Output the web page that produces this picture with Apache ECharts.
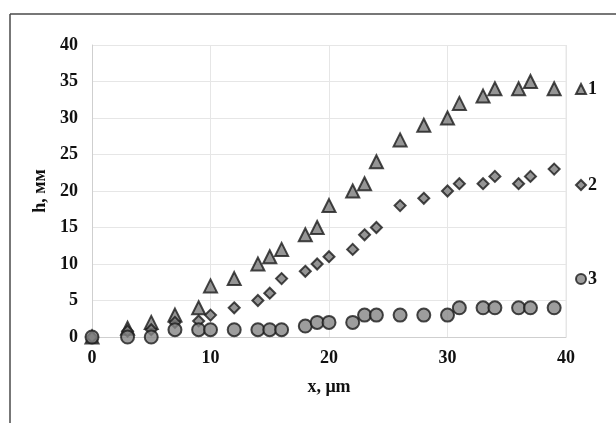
<!DOCTYPE html>
<html><head><meta charset="utf-8">
<script src="https://cdn.jsdelivr.net/npm/echarts@6/dist/echarts.min.js"></script>
<style>html,body{margin:0;padding:0;background:#fff}#c{width:616px;height:423px}</style>
</head><body><div id="c"></div>
<script>
const xValues = [0,3,5,7,9,10,12,14,15,16,18,19,20,22,23,24,26,28,30,31,33,34,36,37,39];
const series1 = [0,1.2,2,3,4,7,8,10,11,12,14,15,18,20,21,24,27,29,30,32,33,34,34,35,34];
const series2 = [0,0.8,1,2,2.2,3,4,5,6,8,9,10,11,12,14,15,18,19,20,21,21,22,21,22,23];
const series3 = [0,0,0,1,1,1,1,1,1,1,1.5,2,2,2,3,3,3,3,3,4,4,4,4,4,4];
const seriesNames = ['1','2','3'];
const yTicks = [0,5,10,15,20,25,30,35,40];
const xTicks = [0,10,20,30,40];

const font = 'Liberation Serif';
const pair = arr => xValues.map((x,i)=>[x,arr[i]]);
const mk = (name, data, symbol, size, color) => ({
  name, type:'scatter', data: pair(data), symbol, symbolSize:size,
  itemStyle:{color, borderColor:'#1a1a1a', borderWidth:2}, z: 3
});
const legendBase = (name, top) => ({
  data:[name], right:14, top, orient:'vertical', itemWidth:10, itemHeight:10, itemGap:4,
  textStyle:{fontFamily:font, fontWeight:'bold', fontSize:18, color:'#111', padding:[0,0,0,-3]}
});
const chart = echarts.init(document.getElementById('c'));
chart.setOption({
  animation:false,
  backgroundColor:'#fff',
  grid:{left:92, right:50, top:45, bottom:86},
  xAxis:{type:'value', min:0, max:40, interval:10,
    name:'x, μm', nameLocation:'middle', nameGap:41,
    nameTextStyle:{fontFamily:font, fontWeight:'bold', fontSize:18, color:'#111'},
    axisLine:{show:true, lineStyle:{color:'#cfcfcf'}}, axisTick:{show:false},
    axisLabel:{fontFamily:font, fontWeight:'bold', fontSize:18, color:'#111', margin:12},
    splitLine:{show:true, lineStyle:{color:'#e6e6e6'}}},
  yAxis:{type:'value', min:0, max:40, interval:5,
    name:'h, мм', nameLocation:'middle', nameGap:39, nameRotate:90,
    nameTextStyle:{fontFamily:font, fontWeight:'bold', fontSize:18, color:'#111'},
    axisLine:{show:true, lineStyle:{color:'#cfcfcf'}}, axisTick:{show:false},
    axisLabel:{fontFamily:font, fontWeight:'bold', fontSize:18, color:'#111', margin:14},
    splitLine:{show:true, lineStyle:{color:'#e6e6e6'}}},
  legend:[legendBase('1',75), legendBase('2',171), legendBase('3',265)],
  graphic:[
    {type:'line', shape:{x1:10,y1:14,x2:616,y2:14}, style:{stroke:'#4a4a4a', lineWidth:1.5}},
    {type:'line', shape:{x1:10,y1:14,x2:10,y2:423}, style:{stroke:'#4a4a4a', lineWidth:1.5}},
    {type:'line', shape:{x1:566,y1:45,x2:566,y2:337}, style:{stroke:'#e6e6e6', lineWidth:1}}
  ],
  series:[
    mk(seriesNames[0], series1, 'triangle', 13, '#7a7a7a'),
    mk(seriesNames[1], series2, 'diamond', 11, '#7a7a7a'),
    mk(seriesNames[2], series3, 'circle', 13, '#858585')
  ]
});
</script></body></html>
